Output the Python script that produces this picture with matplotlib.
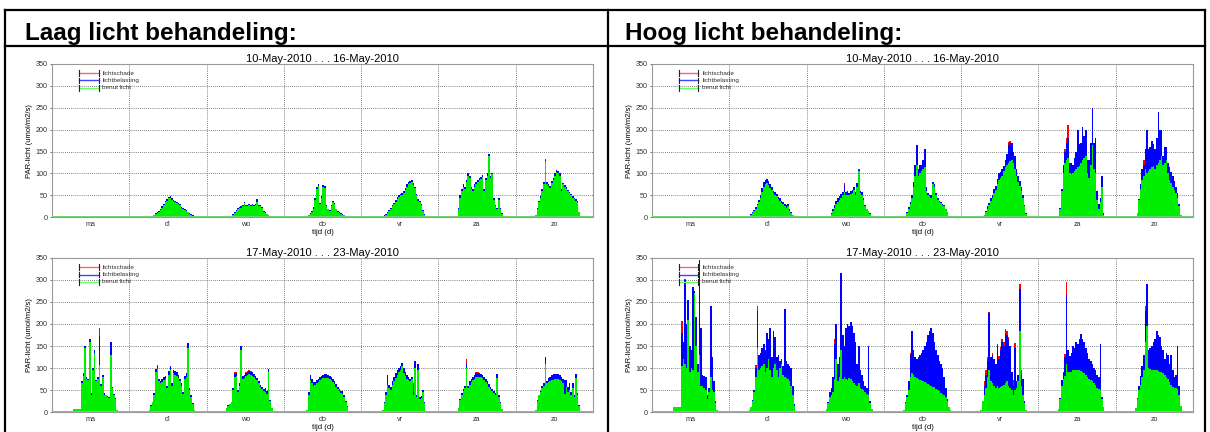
import numpy as np
import matplotlib.pyplot as plt
from matplotlib.lines import Line2D

plt.rcParams['font.family'] = ['Liberation Sans', 'DejaVu Sans']

dagen = ['ma', 'di', 'wo', 'do', 'vr', 'za', 'zo']
titels = ['10-May-2010 . . . 16-May-2010', '17-May-2010 . . . 23-May-2010']
koppen = ['Laag licht behandeling:', 'Hoog licht behandeling:']

# half-hour values per day, first value = 5:30 h
# --- laag licht, week 1
laag1_benut = [
    [],
    [0, 1, 2, 3, 5, 8, 10, 13, 17, 22, 28, 34, 38, 43, 45, 40, 37, 35, 33, 30, 28, 22, 19, 16, 14, 11, 8, 6, 4, 2, 0, 0],
    [0, 0, 0, 1, 3, 6, 10, 15, 19, 21, 22, 25, 32, 26, 25, 27, 26, 28, 25, 27, 36, 26, 25, 22, 12, 9, 7, 5, 3, 2, 1, 0],
    [0, 0, 0, 2, 5, 8, 12, 20, 40, 65, 72, 30, 45, 70, 68, 25, 18, 15, 25, 35, 30, 18, 12, 10, 8, 6, 5, 3, 1, 0, 0, 0],
    [0, 0, 2, 4, 6, 10, 14, 18, 25, 30, 36, 42, 47, 50, 52, 55, 62, 70, 76, 79, 80, 74, 66, 50, 38, 35, 28, 15, 6, 2, 0, 0],
    [0, 20, 45, 60, 70, 65, 80, 95, 90, 65, 60, 70, 75, 80, 85, 88, 92, 60, 85, 95, 140, 90, 98, 40, 25, 20, 40, 20, 8, 2, 0, 0],
    [0, 5, 20, 35, 45, 60, 75, 128, 75, 72, 68, 78, 85, 95, 103, 100, 95, 60, 75, 70, 65, 60, 55, 50, 45, 42, 38, 35, 12, 2, 0, 0],
]
laag1_belasting = [
    [],
    [0, 1, 3, 4, 6, 10, 12, 15, 19, 25, 31, 37, 41, 46, 48, 43, 40, 38, 36, 33, 30, 24, 21, 18, 16, 13, 10, 7, 5, 2, 0, 0],
    [0, 0, 0, 1, 4, 8, 12, 17, 21, 23, 25, 28, 36, 29, 28, 30, 29, 31, 28, 30, 41, 29, 28, 24, 14, 11, 8, 6, 4, 2, 1, 0],
    [0, 0, 0, 3, 6, 10, 14, 23, 44, 70, 76, 33, 49, 74, 72, 28, 20, 17, 28, 38, 33, 20, 14, 12, 10, 7, 6, 4, 1, 0, 0, 0],
    [0, 0, 2, 5, 7, 12, 16, 21, 28, 33, 40, 46, 51, 54, 56, 59, 66, 75, 80, 83, 84, 78, 70, 54, 41, 38, 30, 17, 7, 2, 0, 0],
    [0, 22, 50, 65, 75, 70, 86, 100, 95, 70, 65, 75, 80, 85, 90, 93, 96, 65, 90, 100, 145, 95, 102, 43, 27, 22, 43, 22, 9, 2, 0, 0],
    [0, 6, 22, 38, 48, 64, 80, 130, 80, 76, 72, 82, 90, 100, 108, 105, 100, 64, 79, 74, 69, 63, 58, 53, 48, 45, 41, 37, 13, 2, 0, 0],
]
laag1_schade = {(6, 7): 134}

# --- laag licht, week 2
laag2_benut = [
    [0, 0, 7, 7, 7, 7, 7, 65, 82, 145, 75, 72, 160, 40, 95, 135, 70, 75, 108, 60, 80, 40, 38, 35, 32, 130, 55, 40, 30, 5, 0, 0],
    [0, 5, 15, 22, 40, 90, 98, 70, 65, 68, 72, 75, 55, 85, 95, 60, 88, 85, 83, 78, 70, 60, 42, 75, 80, 145, 50, 35, 18, 5, 0, 0],
    [0, 10, 15, 18, 22, 50, 80, 82, 45, 60, 140, 75, 78, 82, 84, 86, 85, 83, 80, 76, 72, 65, 58, 52, 48, 45, 42, 90, 25, 10, 0, 0],
    [0, 0, 0, 5, 40, 72, 65, 60, 62, 65, 68, 72, 75, 77, 78, 78, 77, 75, 72, 68, 63, 58, 52, 47, 44, 42, 35, 22, 12, 3, 0, 0],
    [0, 0, 5, 20, 40, 62, 55, 50, 62, 70, 78, 85, 90, 96, 105, 88, 82, 75, 72, 70, 75, 40, 100, 35, 95, 30, 32, 45, 20, 0, 0, 0],
    [0, 10, 28, 40, 48, 55, 100, 55, 62, 68, 72, 76, 79, 80, 80, 79, 77, 73, 68, 63, 58, 53, 48, 44, 40, 78, 35, 20, 8, 0, 0, 0],
    [0, 5, 25, 38, 45, 55, 60, 110, 65, 68, 70, 72, 74, 75, 75, 75, 73, 70, 65, 42, 58, 45, 50, 40, 55, 35, 78, 40, 15, 2, 0, 0],
]
laag2_belasting = [
    [0, 0, 7, 7, 7, 7, 7, 70, 86, 150, 80, 76, 166, 44, 100, 140, 74, 80, 172, 64, 84, 43, 40, 37, 34, 160, 58, 42, 32, 5, 0, 0],
    [0, 5, 16, 24, 43, 98, 105, 76, 71, 75, 80, 83, 60, 94, 104, 66, 96, 93, 90, 85, 76, 65, 46, 82, 88, 157, 54, 38, 20, 5, 0, 0],
    [0, 10, 16, 19, 24, 55, 87, 88, 50, 65, 150, 82, 85, 89, 91, 93, 92, 90, 87, 82, 77, 70, 62, 56, 52, 55, 47, 98, 28, 10, 0, 0],
    [0, 0, 0, 5, 45, 84, 75, 68, 69, 73, 76, 80, 83, 85, 86, 86, 85, 83, 80, 76, 70, 64, 57, 52, 49, 47, 40, 25, 13, 3, 0, 0],
    [0, 0, 5, 22, 45, 85, 62, 56, 70, 80, 88, 95, 100, 105, 112, 100, 92, 85, 80, 76, 80, 45, 115, 40, 110, 35, 36, 50, 22, 0, 0, 0],
    [0, 10, 30, 43, 52, 60, 110, 60, 70, 76, 80, 85, 88, 89, 89, 87, 85, 80, 75, 70, 64, 58, 52, 48, 44, 86, 38, 22, 8, 0, 0, 0],
    [0, 5, 27, 40, 48, 60, 65, 125, 70, 78, 80, 84, 86, 87, 87, 86, 84, 80, 75, 72, 73, 57, 65, 45, 65, 38, 86, 43, 16, 2, 0, 0],
]
laag2_schade = {(0, 8): 88, (0, 18): 190, (1, 6): 108, (2, 6): 91, (2, 7): 90,
                (2, 13): 92, (2, 14): 94, (2, 15): 95, (2, 16): 94, (4, 21): 65,
                (5, 6): 120, (5, 12): 90, (5, 13): 91}

# --- hoog licht, week 1
hoog1_benut = [
    [],
    [0, 2, 5, 10, 14, 20, 27, 35, 45, 58, 70, 75, 78, 74, 68, 62, 55, 52, 48, 42, 38, 33, 30, 26, 22, 25, 15, 10, 5, 1, 0, 0],
    [0, 0, 0, 2, 8, 15, 22, 30, 35, 40, 45, 50, 58, 50, 52, 50, 54, 55, 62, 52, 70, 105, 55, 52, 40, 25, 18, 14, 8, 3, 0, 0],
    [0, 0, 3, 10, 20, 30, 45, 70, 95, 120, 95, 100, 105, 110, 115, 60, 50, 48, 45, 75, 70, 50, 40, 35, 32, 28, 25, 18, 12, 3, 0, 0],
    [0, 0, 0, 5, 12, 20, 28, 38, 45, 55, 62, 75, 85, 90, 95, 105, 115, 120, 125, 128, 130, 125, 110, 95, 80, 72, 60, 45, 25, 8, 0, 0],
    [0, 0, 20, 60, 100, 125, 130, 135, 100, 98, 100, 105, 110, 115, 118, 125, 130, 135, 140, 100, 90, 120, 165, 110, 100, 40, 20, 35, 70, 5, 0, 0],
    [0, 0, 10, 40, 65, 85, 95, 110, 100, 105, 110, 115, 118, 110, 120, 125, 130, 140, 120, 125, 130, 100, 85, 78, 70, 62, 55, 45, 25, 5, 0, 0],
]
hoog1_belasting = [
    [],
    [0, 2, 7, 13, 17, 23, 31, 40, 52, 66, 80, 84, 88, 83, 77, 69, 61, 58, 54, 47, 43, 37, 34, 30, 28, 30, 18, 12, 6, 1, 0, 0],
    [0, 0, 0, 2, 10, 20, 28, 38, 44, 48, 54, 57, 73, 57, 59, 56, 60, 62, 70, 58, 78, 108, 60, 57, 44, 28, 20, 15, 9, 3, 0, 0],
    [0, 0, 4, 12, 24, 35, 52, 80, 120, 165, 110, 120, 120, 130, 155, 70, 55, 52, 50, 80, 75, 55, 44, 38, 35, 31, 27, 20, 13, 3, 0, 0],
    [0, 0, 0, 6, 15, 25, 33, 44, 52, 65, 72, 88, 100, 103, 110, 118, 130, 145, 165, 170, 170, 150, 140, 110, 95, 82, 70, 52, 28, 9, 0, 0],
    [0, 0, 22, 65, 120, 150, 170, 180, 125, 123, 120, 135, 150, 200, 168, 170, 205, 185, 200, 130, 130, 170, 250, 170, 180, 60, 30, 45, 95, 10, 0, 0],
    [0, 0, 10, 42, 75, 110, 120, 155, 200, 155, 160, 175, 168, 155, 180, 240, 200, 200, 140, 160, 160, 125, 115, 103, 95, 82, 70, 55, 30, 5, 0, 0],
]
hoog1_schade = {(2, 12): 78, (2, 21): 111, (4, 18): 172, (4, 19): 175,
                (5, 5): 155, (5, 6): 180, (5, 7): 210, (6, 6): 130}

# --- hoog licht, week 2
hoog2_benut = [
    [0, 0, 12, 12, 12, 12, 12, 105, 120, 110, 100, 210, 90, 100, 95, 270, 150, 90, 130, 60, 60, 55, 50, 30, 45, 80, 50, 45, 20, 5, 0, 0],
    [3, 5, 12, 25, 45, 80, 145, 95, 100, 105, 110, 90, 100, 120, 95, 80, 100, 110, 95, 80, 100, 110, 85, 80, 78, 75, 70, 60, 40, 15, 3, 0],
    [0, 8, 20, 35, 40, 45, 75, 120, 70, 80, 140, 75, 80, 75, 72, 78, 75, 70, 65, 62, 60, 65, 55, 52, 50, 45, 42, 40, 20, 8, 2, 0],
    [0, 5, 20, 35, 50, 80, 88, 85, 80, 78, 76, 74, 72, 70, 68, 66, 64, 62, 60, 58, 56, 53, 50, 47, 44, 42, 40, 35, 25, 12, 4, 0],
    [0, 5, 25, 40, 55, 80, 95, 70, 65, 60, 55, 60, 55, 58, 60, 62, 65, 70, 60, 55, 50, 40, 50, 55, 70, 185, 60, 40, 20, 5, 0, 0],
    [0, 8, 30, 60, 75, 82, 110, 92, 90, 92, 95, 95, 95, 96, 95, 93, 90, 88, 84, 80, 76, 72, 70, 66, 62, 55, 52, 50, 30, 12, 2, 0],
    [0, 10, 30, 50, 62, 80, 95, 160, 195, 100, 98, 95, 95, 96, 95, 94, 92, 90, 88, 85, 80, 75, 68, 62, 58, 55, 55, 52, 40, 15, 3, 0],
]
hoog2_belasting = [
    [0, 0, 12, 12, 12, 12, 12, 180, 160, 300, 200, 255, 150, 140, 285, 275, 215, 110, 345, 190, 85, 82, 80, 40, 55, 240, 125, 70, 25, 5, 0, 0],
    [3, 5, 12, 28, 50, 100, 230, 130, 135, 145, 155, 140, 180, 165, 190, 125, 185, 170, 125, 130, 115, 120, 105, 235, 115, 110, 105, 100, 60, 18, 3, 0],
    [0, 8, 22, 45, 55, 80, 155, 200, 110, 125, 315, 175, 150, 190, 200, 195, 205, 195, 180, 160, 110, 150, 95, 85, 70, 60, 55, 150, 25, 8, 2, 0],
    [0, 5, 22, 40, 70, 130, 185, 140, 125, 120, 125, 130, 135, 140, 150, 160, 175, 185, 190, 180, 160, 140, 130, 115, 110, 100, 80, 55, 30, 12, 4, 0],
    [0, 5, 25, 60, 85, 115, 225, 125, 130, 120, 110, 150, 120, 140, 160, 150, 180, 175, 165, 150, 90, 60, 145, 70, 85, 280, 85, 75, 25, 5, 0, 0],
    [0, 8, 32, 72, 88, 125, 265, 140, 128, 135, 150, 145, 160, 155, 165, 178, 165, 160, 145, 135, 120, 115, 110, 100, 95, 85, 80, 155, 35, 12, 2, 0],
    [0, 10, 32, 60, 82, 105, 130, 230, 290, 140, 145, 150, 160, 165, 185, 175, 170, 150, 140, 120, 135, 130, 110, 130, 95, 80, 85, 150, 60, 15, 3, 0],
]
hoog2_schade = {(0, 7): 207, (0, 9): 303, (1, 5): 108, (1, 6): 240, (2, 6): 165,
                (3, 5): 135, (4, 3): 70, (4, 4): 95, (4, 5): 125, (4, 6): 228,
                (4, 8): 135, (4, 11): 155, (4, 12): 128, (4, 13): 148, (4, 14): 165,
                (4, 15): 160, (4, 16): 188, (4, 17): 185, (4, 18): 170, (4, 21): 72,
                (4, 22): 158, (4, 25): 290, (4, 26): 95, (5, 4): 92, (5, 5): 132,
                (5, 6): 295, (6, 7): 240}

SLOT0 = 11  # 5:30 h as half-hour index


def volledig(dagwaarden):
    v = np.zeros(7 * 48)
    for d, vals in enumerate(dagwaarden):
        v[d * 48 + SLOT0:d * 48 + SLOT0 + len(vals)] = vals
    return v


def teken(ax, benut, belasting, schade, titel):
    edges = np.arange(7 * 48 + 1) / 48
    groen = volledig(benut)
    blauw = volledig(belasting)
    rood = blauw.copy()
    for (d, k), val in schade.items():
        rood[d * 48 + SLOT0 + k] = val

    ax.stairs(rood, edges, fill=True, color='#ff0000', zorder=2)
    ax.stairs(blauw, edges, fill=True, color='#0000ff', zorder=3)
    ax.stairs(groen, edges, fill=True, color='#00ee00', zorder=4)
    ax.axhline(0, color='#70d070', lw=1.4, zorder=5)

    ax.set_xlim(0, 7)
    ax.set_ylim(0, 350)
    ax.set_yticks(np.arange(0, 351, 50))
    ax.set_xticks(np.arange(7) + 0.5)
    ax.set_xticklabels(dagen)
    ax.set_xticks(np.arange(1, 7), minor=True)
    ax.grid(which='minor', axis='x', linestyle=(0, (1, 1.5)), color='#555555', lw=0.6)
    ax.grid(which='major', axis='y', linestyle=(0, (1, 1.5)), color='#555555', lw=0.6)
    ax.set_axisbelow(True)
    ax.tick_params(axis='both', which='major', labelsize=5.2, colors='#333333', length=1.5, width=0.5, pad=1.5)
    ax.tick_params(axis='x', which='both', length=0, pad=3)
    for s in ax.spines.values():
        s.set_color('#999999')
        s.set_linewidth(0.8)
    ax.set_title(titel, fontsize=8, pad=1.5)
    ax.set_ylabel('PAR-licht (umol/m2/s)', fontsize=5.5, labelpad=2)
    ax.set_xlabel('tijd (d)', fontsize=5.5, labelpad=0.5)

    # legend with capped lines
    for i, (lab, c) in enumerate([('lichtschade', '#ff6666'),
                                  ('lichtbelasting', '#4444ff'),
                                  ('benut licht', '#66ff66')]):
        y = 0.94 - i * 0.048
        ax.plot([0.05, 0.086], [y, y], transform=ax.transAxes, color=c, lw=1.0, zorder=6)
        for xc in (0.05, 0.086):
            ax.plot([xc, xc], [y - 0.018, y + 0.018], transform=ax.transAxes, color='#222222', lw=0.8, zorder=7)
        ax.text(0.093, y, lab, transform=ax.transAxes, fontsize=4.6, va='center', color='#333333', zorder=7)


fig = plt.figure(figsize=(12.1, 4.32), dpi=100)

ax_tl = fig.add_axes([0.043, 0.497, 0.447, 0.355])
ax_bl = fig.add_axes([0.043, 0.046, 0.447, 0.357])
ax_tr = fig.add_axes([0.5388, 0.497, 0.4471, 0.355])
ax_br = fig.add_axes([0.5388, 0.046, 0.4471, 0.357])

teken(ax_tl, laag1_benut, laag1_belasting, laag1_schade, titels[0])
teken(ax_bl, laag2_benut, laag2_belasting, laag2_schade, titels[1])
teken(ax_tr, hoog1_benut, hoog1_belasting, hoog1_schade, titels[0])
teken(ax_br, hoog2_benut, hoog2_belasting, hoog2_schade, titels[1])

# table borders
kw = dict(color='black', lw=1.6)
fig.add_artist(Line2D([0.004, 0.996], [0.977, 0.977], **kw))
fig.add_artist(Line2D([0.004, 0.996], [0.893, 0.893], **kw))
for x in (0.0045, 0.5025, 0.9955):
    fig.add_artist(Line2D([x, x], [0, 0.977], **kw))

fig.text(0.0207, 0.907, koppen[0], fontsize=17.5, fontweight='bold', va='baseline')
fig.text(0.5165, 0.907, koppen[1], fontsize=17.5, fontweight='bold', va='baseline')

fig.savefig('out.png', dpi=100)
